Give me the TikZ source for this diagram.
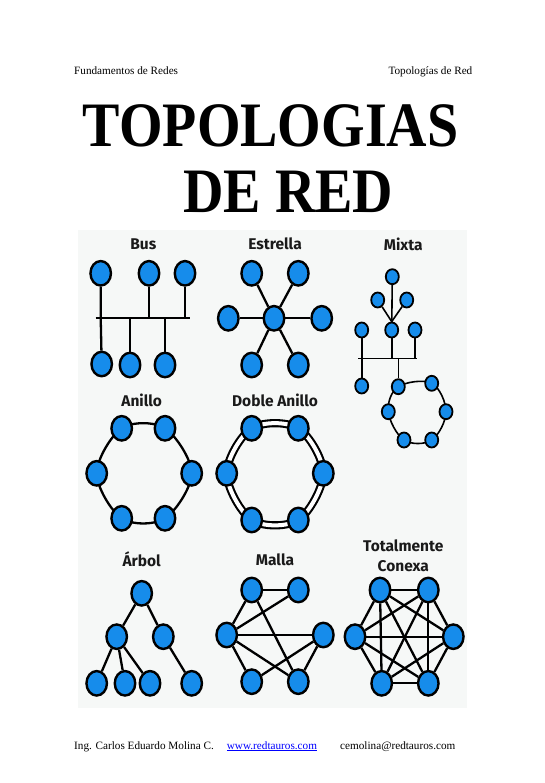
\documentclass[tikz,border=0pt]{standalone}
\usepackage{fontspec}
\setmainfont{Liberation Serif}
\newfontfamily\labfont{Fira Sans}
\usetikzlibrary{shapes.geometric,backgrounds}
\definecolor{nodeblue}{RGB}{22,140,235}
\definecolor{panelbg}{RGB}{246,248,247}
\definecolor{linkblue}{RGB}{0,0,255}
\definecolor{labcol}{RGB}{26,26,26}
\tikzset{
  nd/.style={ellipse, draw=black, fill=nodeblue, line width=2.4pt, minimum width=20.5pt, minimum height=24.5pt, inner sep=0pt},
  sn/.style={ellipse, draw=black, fill=nodeblue, line width=1.8pt, minimum width=13pt, minimum height=15pt, inner sep=0pt},
  ln/.style={draw=black, line width=2.3pt},
  sl/.style={draw=black, line width=1.6pt},
  lab/.style={font=\labfont\bfseries\fontsize{15.5}{18}\selectfont, text=labcol, inner sep=0pt},
  hdr/.style={font=\fontsize{11.2}{13}\selectfont, anchor=base west, inner sep=0pt},
  ttl/.style={font=\fontsize{56}{60}\selectfont\bfseries, anchor=base, inner sep=0pt},
}
\begin{document}
\begin{tikzpicture}[x=1pt,y=-1pt]
\useasboundingbox (0,0) rectangle (545,783);
\begin{scope}[on background layer]
\fill[white] (0,0) rectangle (545,783);
\fill[panelbg] (78,230) rectangle (467,708);
\end{scope}

% header
\node[hdr] (h1) at (74,74.5) {Fundamentos de Redes};
\node[hdr] (h2) at (388.3,74.5) {Topologías de Red};
% title
\node[ttl] (t1) at (270.7,146.7) {\scalebox{1}[1.13]{TOPOLOGIAS}};
\node[ttl] (t2) at (288.3,213) {\scalebox{1}[1.13]{DE RED}};
% footer
\node[hdr] (f1) at (74,749) {Ing. Carlos Eduardo Molina C.};
\node[hdr, text=linkblue] (f2) at (226.7,749) {\underline{www.redtauros.com}};
\node[hdr] (f3) at (340,749) {cemolina@redtauros.com};

% ---- labels
\node[lab] (lbus) at (143.3,244) {Bus};
\node[lab] (lest) at (275,244) {Estrella};
\node[lab] (lmix) at (403.3,244) {Mixta};
\node[lab] (lani) at (141.7,400) {Anillo};
\node[lab] (ldob) at (275,400) {Doble Anillo};
\node[lab] (larb) at (141.7,559) {Árbol};
\node[lab] (lmal) at (275,560) {Malla};
\node[lab] (ltot) at (403.3,546) {Totalmente};
\node[lab] (lcon) at (403.3,566.5) {Conexa};

% ---- Bus
\node[nd] (bt1) at (100.7,273.3) {};
\node[nd] (bt2) at (149,273.3) {};
\node[nd] (bt3) at (185,273.3) {};
\node[nd] (bb1) at (101.7,364) {};
\node[nd] (bb2) at (130,365) {};
\node[nd] (bb3) at (165,365) {};
\coordinate (busL) at (95.7,318);
\coordinate (busR) at (190,318);
\begin{scope}[on background layer]
\draw[ln] (busL) -- (busR);
\draw[ln] (bt1) -- (bt1 |- busL) -- (bb1);
\draw[ln] (bt2) -- (bt2 |- busL);
\draw[ln] (bt3) -- (bt3 |- busL);
\draw[ln] (bb2) -- (bb2 |- busL);
\draw[ln] (bb3) -- (bb3 |- busL);
\end{scope}

% ---- Estrella
\node[nd] (ec) at (274,318.3) {};
\node[nd] (e1) at (251.7,273.3) {};
\node[nd] (e2) at (298.3,273.3) {};
\node[nd] (e3) at (228.3,318.3) {};
\node[nd] (e4) at (321.7,318.3) {};
\node[nd] (e5) at (251.7,365) {};
\node[nd] (e6) at (298.3,365) {};
\begin{scope}[on background layer]
\foreach \n in {e1,e2,e3,e4,e5,e6} \draw[ln] (ec) -- (\n);
\end{scope}

% ---- Mixta
\node[sn] (mt) at (392.3,276.7) {};
\node[sn] (ms1) at (377.7,300) {};
\node[sn] (ms2) at (406.7,300) {};
\node[sn] (m1) at (361.7,330) {};
\node[sn] (m2) at (391.7,330) {};
\node[sn] (m3) at (415,330) {};
\node[sn] (mb) at (361.7,386) {};
\node[sn] (r1) at (398.3,386.7) {};
\node[sn] (r2) at (431.7,383.3) {};
\node[sn] (r3) at (446,411.7) {};
\node[sn] (r4) at (431.7,440) {};
\node[sn] (r5) at (404,440) {};
\node[sn] (r6) at (388.3,411.7) {};
\coordinate (mbL) at (358.3,358.3);
\coordinate (mbR) at (417.3,358.3);
\begin{scope}[on background layer]
\draw[sl] (mt) -- (m2);
\draw[sl] (ms1) -- (m2.north);
\draw[sl] (ms2) -- (m2.north);
\draw[sl] (mbL) -- (mbR);
\draw[sl] (m1) -- (mb);
\draw[sl] (m2) -- (m2 |- mbL);
\draw[sl] (m3) -- (m3 |- mbL);
\draw[sl] (r1 |- mbL) -- (r1);
\draw[sl] plot[smooth cycle, tension=0.6] coordinates {(r1.center) (r2.center) (r3.center) (r4.center) (r5.center) (r6.center)};
\end{scope}

% ---- Anillo
\node[nd] (a1) at (121.7,428.3) {};
\node[nd] (a2) at (165,428.3) {};
\node[nd] (a3) at (191.7,473.3) {};
\node[nd] (a4) at (165,518.3) {};
\node[nd] (a5) at (121.7,518.3) {};
\node[nd] (a6) at (96.7,473.3) {};
\begin{scope}[on background layer]
\draw[ln] plot[smooth cycle, tension=0.55] coordinates {(a1.center) (a2.center) (a3.center) (a4.center) (a5.center) (a6.center)};
\end{scope}

% ---- Doble Anillo
\node[nd] (d1) at (251.7,428.3) {};
\node[nd] (d2) at (298.3,428.3) {};
\node[nd] (d3) at (323.3,473.3) {};
\node[nd] (d4) at (298.3,520) {};
\node[nd] (d5) at (251.7,520) {};
\node[nd] (d6) at (226.7,473.3) {};
\begin{scope}[on background layer]
\draw[draw=black, line width=2.1pt, double=white, double distance=4pt] plot[smooth cycle, tension=0.55] coordinates {(d1.center) (d2.center) (d3.center) (d4.center) (d5.center) (d6.center)};
\end{scope}

% ---- Arbol
\node[nd] (ar) at (141.7,593.3) {};
\node[nd] (al) at (116.7,636.7) {};
\node[nd] (arr) at (163.3,636.7) {};
\node[nd] (ab1) at (96.7,683.3) {};
\node[nd] (ab2) at (125,683.3) {};
\node[nd] (ab3) at (150,683.3) {};
\node[nd] (ab4) at (191.7,683.3) {};
\begin{scope}[on background layer]
\draw[ln] (ar) -- (al);
\draw[ln] (ar) -- (arr);
\draw[ln] (al) -- (ab1);
\draw[ln] (al) -- (ab2);
\draw[ln] (al) -- (ab3);
\draw[ln] (arr) -- (ab4);
\end{scope}

% ---- Malla
\node[nd] (mA) at (251.7,590) {};
\node[nd] (mB) at (298.3,590) {};
\node[nd] (mC) at (226.7,635) {};
\node[nd] (mD) at (323.3,635) {};
\node[nd] (mE) at (251.7,681.7) {};
\node[nd] (mF) at (298.3,681.7) {};
\begin{scope}[on background layer]
\draw[ln] (mA) -- (mB);
\draw[ln] (mA) -- (mC);
\draw[ln] (mB) -- (mC);
\draw[ln] (mA) -- (mF);
\draw[ln] (mC) -- (mD);
\draw[ln] (mC) -- (mE);
\draw[ln] (mC) -- (mF);
\draw[ln] (mD) -- (mE);
\draw[ln] (mD) -- (mF);
\end{scope}

% ---- Totalmente Conexa
\node[nd] (c1) at (380,590) {};
\node[nd] (c2) at (428.3,590) {};
\node[nd] (c3) at (453.3,636.7) {};
\node[nd] (c4) at (428.3,683.3) {};
\node[nd] (c5) at (381.7,683.3) {};
\node[nd] (c6) at (355,636.7) {};
\begin{scope}[on background layer]
\foreach \i/\j in {c1/c2,c1/c3,c1/c4,c1/c5,c1/c6,c2/c3,c2/c4,c2/c5,c2/c6,c3/c4,c3/c5,c3/c6,c4/c5,c4/c6,c5/c6}
  \draw[ln] (\i) -- (\j);
\end{scope}
\end{tikzpicture}
\end{document}
